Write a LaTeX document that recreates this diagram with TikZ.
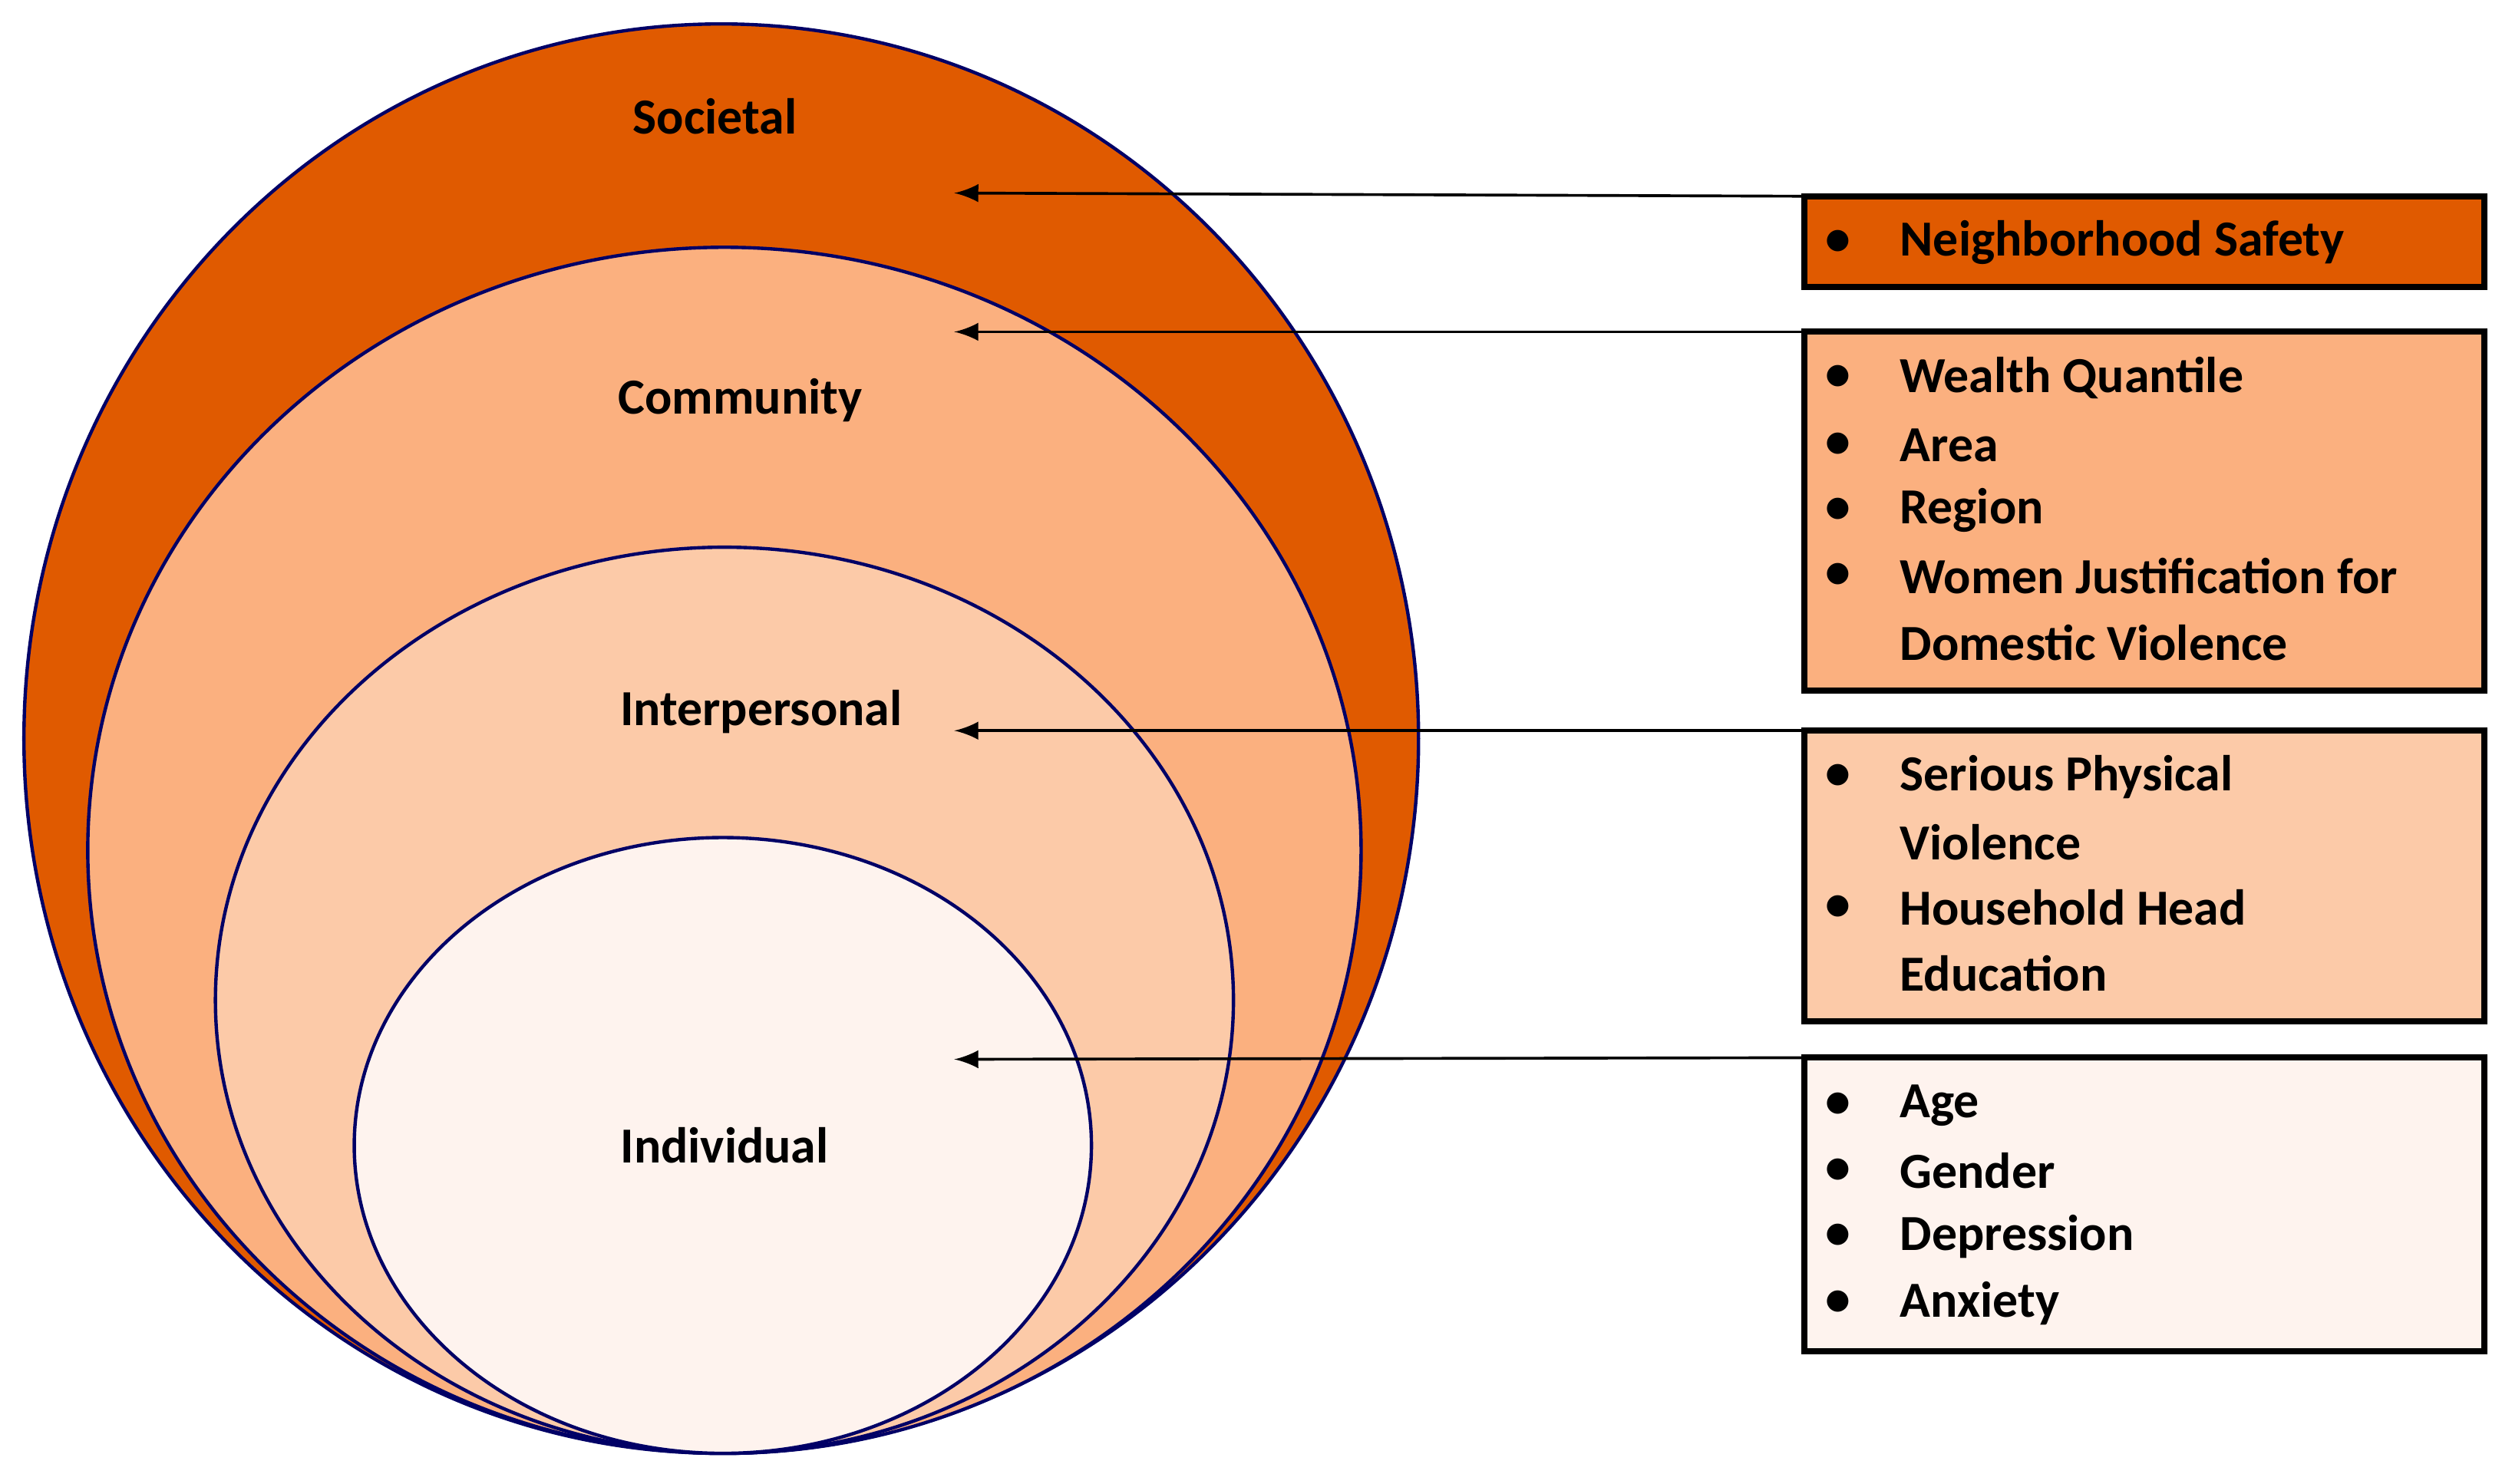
\documentclass[tikz,border=0pt]{standalone}
\usepackage{fontspec}
\setmainfont{Carlito}
\begin{document}
\begin{tikzpicture}[x={(0.01cm,0)},y={(0,-0.01cm)},
  ring/.style={draw=blue!40!black,line width=0.6pt},
  box/.style={draw=black,line width=1.1pt},
  lab/.style={font=\fontsize{9}{11}\selectfont\bfseries,inner sep=0},
  itm/.style={lab,anchor=west},
  arr/.style={-latex,line width=0.5pt}]
\definecolor{cA}{HTML}{E05A00}
\definecolor{cB}{HTML}{FBB07F}
\definecolor{cC}{HTML}{FCCAA8}
\definecolor{cD}{HTML}{FEF3EE}
\useasboundingbox (0,0) rectangle (1568,930);
\fill[white] (0,0) rectangle (1568,930);
\filldraw[ring,fill=cA] (452,463) ellipse [x radius=437,y radius=448];
\filldraw[ring,fill=cB] (454,533) ellipse [x radius=399,y radius=378];
\filldraw[ring,fill=cC] (454,627) ellipse [x radius=319,y radius=284];
\filldraw[ring,fill=cD] (453,718) ellipse [x radius=231,y radius=193];
\node[lab] (soc) at (448,73) {Societal};
\node[lab] (com) at (464,251) {Community};
\node[lab] (int) at (477,446) {Interpersonal};
\node[lab] (ind) at (454,718) {Individual};
\coordinate (p1) at (598,121);
\coordinate (p2) at (598,208);
\coordinate (p3) at (598,458);
\coordinate (p4) at (598,664);
\draw[box,fill=cA] (1131,123) rectangle (1557,180);
\draw[box,fill=cB] (1131,208) rectangle (1557,433);
\draw[box,fill=cC] (1131,458) rectangle (1557,640);
\draw[box,fill=cD] (1131,663) rectangle (1557,847);
\coordinate (b1) at (1131,123);
\coordinate (b2) at (1131,208);
\coordinate (b3) at (1131,458);
\coordinate (b4) at (1131,663);
\draw[arr] (b1) -- (p1);
\draw[arr] (b2) -- (p2);
\draw[arr] (b3) -- (p3);
\draw[arr] (b4) -- (p4);
\foreach \y/\t [count=\i] in {152/Neighborhood Safety,237/Wealth Quantile,279/Area,320/Region,361/Women Justification for,487/Serious Physical,569/Household Head,693/Age,734/Gender,775/Depression,817/Anxiety}{
  \node[lab] (bul\i) at (1152,\y) {\textbullet};
  \node[itm] (it\i) at (1190,\y) {\t};
}
\node[itm] (c1) at (1190,403) {Domestic Violence};
\node[itm] (c2) at (1190,528) {Violence};
\node[itm] (c3) at (1190,610) {Education};
\end{tikzpicture}
\end{document}
